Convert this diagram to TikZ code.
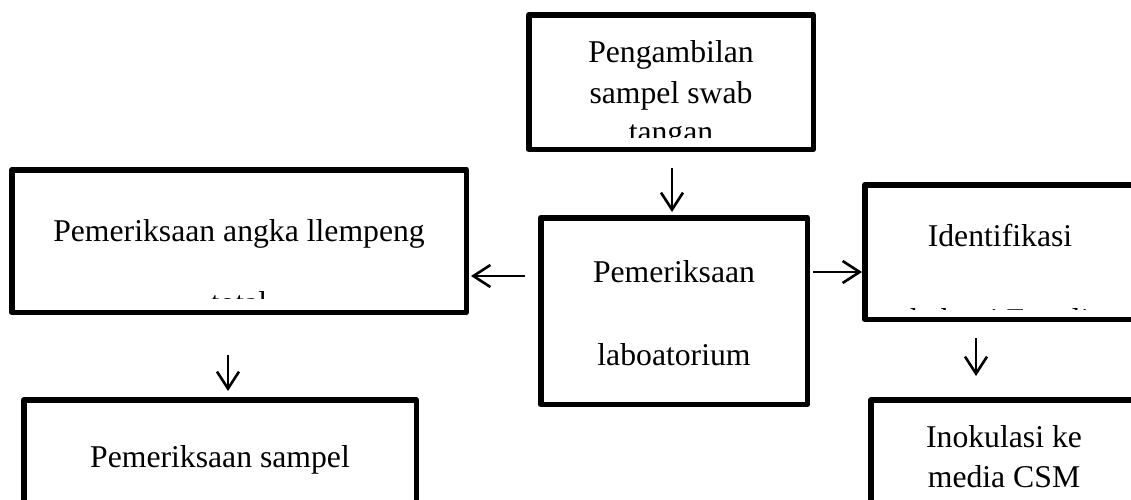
\documentclass[tikz,border=0pt]{standalone}
\usepackage{fontspec}
\setmainfont{Liberation Serif}
\usetikzlibrary{arrows.meta}
\tikzset{
  box/.style={draw=black, line width=5.5pt, line join=round, inner sep=0pt, fill=white},
  arr/.style={line width=2.6pt, -{Straight Barb[length=17pt,width=22pt,line width=2.6pt]}},
  lbl/.style={font=\fontsize{31.7}{38}\selectfont, inner sep=0pt, anchor=base},
}
\begin{document}
\begin{tikzpicture}[x=1pt,y=-1pt]
\clip (0,0) rectangle (1131,499);
\fill[white] (0,0) rectangle (1131,499);
% boxes
\node[box, minimum width=284.5pt, minimum height=134.5pt] (top) at (671,82) {};
\node[box, minimum width=266.5pt, minimum height=186.5pt] (lab) at (674,311) {};
\node[box, minimum width=454.5pt, minimum height=142.5pt] (alt) at (239,241) {};
\node[box, minimum width=270.5pt, minimum height=134.5pt] (idf) at (1000,252) {};
\node[box, minimum width=392.5pt, minimum height=160pt] (smp) at (220,480) {};
\node[box, minimum width=266.5pt, minimum height=160pt] (ino) at (1004,480) {};
% texts
\node[lbl] (t1) at (671,62.7) {Pengambilan};
\node[lbl] (t2) at (671,103) {sampel swab};
\begin{scope}
\clip (532,17) rectangle (810,137.5);
\node[lbl] (t3) at (671,142.6) {tangan};
\end{scope}
\node[lbl] (l1) at (674,282) {Pemeriksaan};
\node[lbl] (l2) at (674,365) {laboatorium};
\node[lbl] (a1) at (239,241.7) {Pemeriksaan angka llempeng};
\begin{scope}
\clip (14,172) rectangle (464,298.5);
\node[lbl] (a2) at (239,313.6) {total};
\end{scope}
\node[lbl] (i1) at (1000,246.7) {Identifikasi};
\begin{scope}
\clip (867,187) rectangle (1131,309.1);
\node[lbl] (i2) at (1000,330) {bakteri E. coli};
\end{scope}
\node[lbl] (s1) at (220,467) {Pemeriksaan sampel};
\node[lbl] (n1) at (1004,447) {Inokulasi ke};
\node[lbl] (n2) at (1004,487) {media CSM};
% connectors
\coordinate (c1s) at (672,168);
\coordinate (c1e) at (672,212);
\coordinate (c2s) at (525,276);
\coordinate (c2e) at (471,276);
\coordinate (c3s) at (813,272);
\coordinate (c3e) at (862,272);
\coordinate (c4s) at (228,355);
\coordinate (c4e) at (228,391);
\coordinate (c5s) at (976,338);
\coordinate (c5e) at (976,376);
\draw[arr] (c1s) -- (c1e);
\draw[arr] (c2s) -- (c2e);
\draw[arr] (c3s) -- (c3e);
\draw[arr] (c4s) -- (c4e);
\draw[arr] (c5s) -- (c5e);
\end{tikzpicture}
\end{document}
